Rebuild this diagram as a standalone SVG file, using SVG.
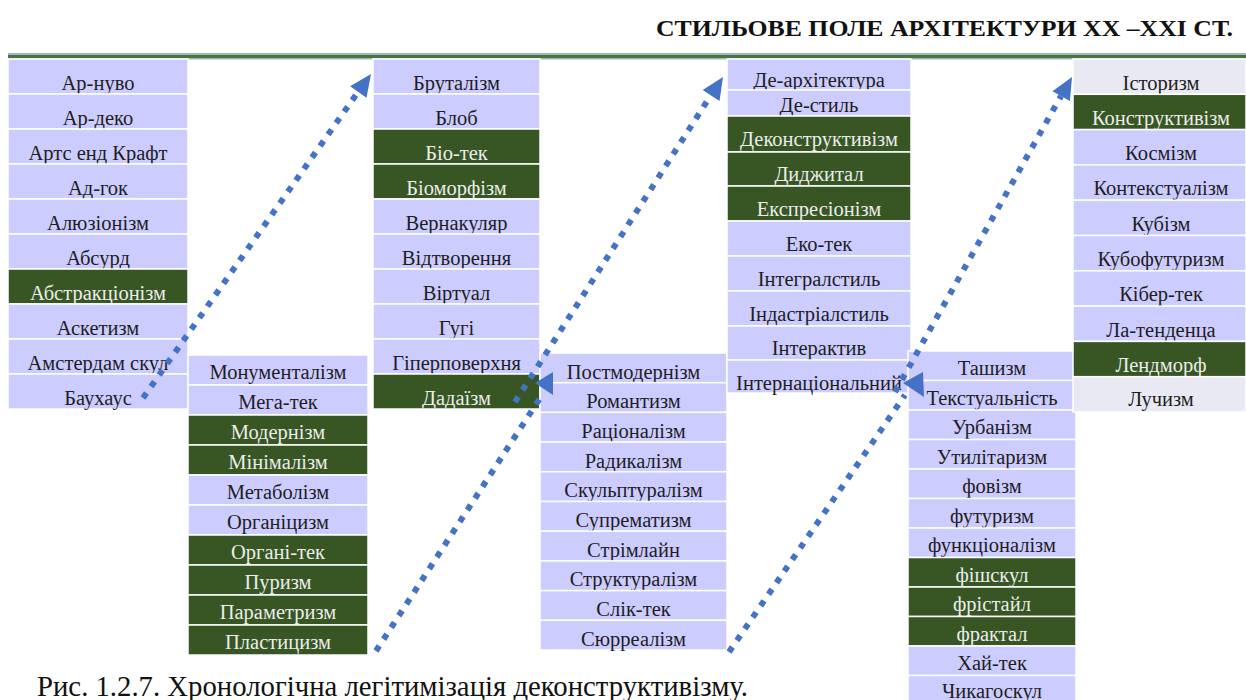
<svg xmlns="http://www.w3.org/2000/svg" width="1246" height="700" viewBox="0 0 1246 700" font-family="'Liberation Serif', 'Times New Roman', serif">
<style>
.c{fill:#CCCCFF;stroke:#ffffff;stroke-width:1.5}
.g{fill:#375623;stroke:#ffffff;stroke-width:1.5}
.w{fill:#E8E9F3;stroke:#ffffff;stroke-width:1.5}
.t{font-family:'Liberation Serif','Times New Roman',serif;font-size:20.5px;text-anchor:middle;fill:#1e1e1e}
.tg{font-family:'Liberation Serif','Times New Roman',serif;font-size:20.5px;text-anchor:middle;fill:#ececec}
.ttl{font-family:'Liberation Serif','Times New Roman',serif;font-size:23px;font-weight:bold;text-anchor:end;fill:#111}
.cap{font-family:'Liberation Serif','Times New Roman',serif;font-size:29px;fill:#111}
.arr{stroke:#4472C4;stroke-width:6;stroke-dasharray:6 8;fill:none}
.head{fill:#4472C4}
</style>
<rect x="0" y="0" width="1246" height="700" fill="#ffffff"/>
<text class="ttl" x="1233" y="36" textLength="577" lengthAdjust="spacingAndGlyphs">СТИЛЬОВЕ ПОЛЕ АРХІТЕКТУРИ XX –XXI СТ.</text>
<g id="topbar">
<rect x="8" y="53" width="1238" height="2" fill="#9DB3D6"/>
<rect x="8" y="55" width="1238" height="3.5" fill="#4A7536"/>
<rect x="8" y="58.5" width="1238" height="1" fill="#9DB3D6"/>
</g>
<g id="col1">
<g id="n-ar-nuvo"><rect class="c" x="8" y="59" width="180" height="35"/><text class="t" x="98" y="89.5">Ар-нуво</text></g>
<g id="n-ar-deko"><rect class="c" x="8" y="94" width="180" height="35"/><text class="t" x="98" y="124.5">Ар-деко</text></g>
<g id="n-arts"><rect class="c" x="8" y="129" width="180" height="35"/><text class="t" x="98" y="159.5">Артс енд Крафт</text></g>
<g id="n-ad-gok"><rect class="c" x="8" y="164" width="180" height="35"/><text class="t" x="98" y="194.5">Ад-гок</text></g>
<g id="n-aliuz"><rect class="c" x="8" y="199" width="180" height="35"/><text class="t" x="98" y="229.5">Алюзіонізм</text></g>
<g id="n-absurd"><rect class="c" x="8" y="234" width="180" height="35"/><text class="t" x="98" y="264.5">Абсурд</text></g>
<g id="n-abstr"><rect class="g" x="8" y="269" width="180" height="35"/><text class="tg" x="98" y="299.5">Абстракціонізм</text></g>
<g id="n-asket"><rect class="c" x="8" y="304" width="180" height="35"/><text class="t" x="98" y="334.5">Аскетизм</text></g>
<g id="n-amst"><rect class="c" x="8" y="339" width="180" height="35"/><text class="t" x="98" y="369.5">Амстердам скул</text></g>
<g id="n-bauh"><rect class="c" x="8" y="374" width="180" height="35"/><text class="t" x="98" y="404.5">Баухаус</text></g>
</g>
<g id="col2">
<g id="n-monum"><rect class="c" x="188" y="355" width="180" height="30"/><text class="t" x="278" y="379">Монументалізм</text></g>
<g id="n-mega"><rect class="c" x="188" y="385" width="180" height="30"/><text class="t" x="278" y="409">Мега-тек</text></g>
<g id="n-modern"><rect class="g" x="188" y="415" width="180" height="30"/><text class="tg" x="278" y="439">Модернізм</text></g>
<g id="n-minim"><rect class="g" x="188" y="445" width="180" height="30"/><text class="tg" x="278" y="469">Мінімалізм</text></g>
<g id="n-metab"><rect class="c" x="188" y="475" width="180" height="30"/><text class="t" x="278" y="499">Метаболізм</text></g>
<g id="n-organ"><rect class="c" x="188" y="505" width="180" height="30"/><text class="t" x="278" y="529">Органіцизм</text></g>
<g id="n-organtek"><rect class="g" x="188" y="535" width="180" height="30"/><text class="tg" x="278" y="559">Органі-тек</text></g>
<g id="n-puryzm"><rect class="g" x="188" y="565" width="180" height="30"/><text class="tg" x="278" y="589">Пуризм</text></g>
<g id="n-param"><rect class="g" x="188" y="595" width="180" height="30"/><text class="tg" x="278" y="619">Параметризм</text></g>
<g id="n-plast"><rect class="g" x="188" y="625" width="180" height="30"/><text class="tg" x="278" y="649">Пластицизм</text></g>
</g>
<g id="col3">
<g id="n-brut"><rect class="c" x="373" y="59" width="167" height="35"/><text class="t" x="456.5" y="89.5">Бруталізм</text></g>
<g id="n-blob"><rect class="c" x="373" y="94" width="167" height="35"/><text class="t" x="456.5" y="124.5">Блоб</text></g>
<g id="n-biotek"><rect class="g" x="373" y="129" width="167" height="35"/><text class="tg" x="456.5" y="159.5">Біо-тек</text></g>
<g id="n-biomorf"><rect class="g" x="373" y="164" width="167" height="35"/><text class="tg" x="456.5" y="194.5">Біоморфізм</text></g>
<g id="n-vern"><rect class="c" x="373" y="199" width="167" height="35"/><text class="t" x="456.5" y="229.5">Вернакуляр</text></g>
<g id="n-vidtv"><rect class="c" x="373" y="234" width="167" height="35"/><text class="t" x="456.5" y="264.5">Відтворення</text></g>
<g id="n-virt"><rect class="c" x="373" y="269" width="167" height="35"/><text class="t" x="456.5" y="299.5">Віртуал</text></g>
<g id="n-gugi"><rect class="c" x="373" y="304" width="167" height="35"/><text class="t" x="456.5" y="334.5">Гугі</text></g>
<g id="n-giper"><rect class="c" x="373" y="339" width="167" height="35"/><text class="t" x="456.5" y="369.5">Гіперповерхня</text></g>
<g id="n-dada"><rect class="g" x="373" y="374" width="167" height="35"/><text class="tg" x="456.5" y="404.5">Дадаїзм</text></g>
</g>
<g id="col4">
<g id="n-postmod"><rect class="c" x="540" y="353" width="187" height="29.7"/><text class="t" x="633.5" y="378.5">Постмодернізм</text></g>
<g id="n-romant"><rect class="c" x="540" y="382.7" width="187" height="29.7"/><text class="t" x="633.5" y="408.2">Романтизм</text></g>
<g id="n-rats"><rect class="c" x="540" y="412.4" width="187" height="29.7"/><text class="t" x="633.5" y="437.9">Раціоналізм</text></g>
<g id="n-radyk"><rect class="c" x="540" y="442.1" width="187" height="29.7"/><text class="t" x="633.5" y="467.6">Радикалізм</text></g>
<g id="n-skulpt"><rect class="c" x="540" y="471.8" width="187" height="29.7"/><text class="t" x="633.5" y="497.3">Скульптуралізм</text></g>
<g id="n-suprem"><rect class="c" x="540" y="501.5" width="187" height="29.7"/><text class="t" x="633.5" y="527">Супрематизм</text></g>
<g id="n-strim"><rect class="c" x="540" y="531.2" width="187" height="29.7"/><text class="t" x="633.5" y="556.7">Стрімлайн</text></g>
<g id="n-strukt"><rect class="c" x="540" y="560.9" width="187" height="29.7"/><text class="t" x="633.5" y="586.4">Структуралізм</text></g>
<g id="n-slik"><rect class="c" x="540" y="590.6" width="187" height="29.7"/><text class="t" x="633.5" y="616.1">Слік-тек</text></g>
<g id="n-surr"><rect class="c" x="540" y="620.3" width="187" height="29.7"/><text class="t" x="633.5" y="645.8">Сюрреалізм</text></g>
</g>
<g id="col5">
<g id="n-dearch"><rect class="c" x="727" y="59" width="184" height="31"/><text class="t" x="819" y="87">Де-архітектура</text></g>
<g id="n-destyl"><rect class="c" x="727" y="90" width="184" height="26"/><text class="t" x="819" y="112">Де-стиль</text></g>
<g id="n-dekon"><rect class="g" x="727" y="116" width="184" height="36"/><text class="tg" x="819" y="146">Деконструктивізм</text></g>
<g id="n-didzh"><rect class="g" x="727" y="152" width="184" height="34"/><text class="tg" x="819" y="181">Диджитал</text></g>
<g id="n-ekspr"><rect class="g" x="727" y="186" width="184" height="35"/><text class="tg" x="819" y="215.5">Експресіонізм</text></g>
<g id="n-ekotek"><rect class="c" x="727" y="221" width="184" height="35"/><text class="t" x="819" y="251">Еко-тек</text></g>
<g id="n-integr"><rect class="c" x="727" y="256" width="184" height="35"/><text class="t" x="819" y="286">Інтегралстиль</text></g>
<g id="n-indust"><rect class="c" x="727" y="291" width="184" height="35"/><text class="t" x="819" y="321">Індастріалстиль</text></g>
<g id="n-interakt"><rect class="c" x="727" y="326" width="184" height="34"/><text class="t" x="819" y="355">Інтерактив</text></g>
<g id="n-intern"><rect class="c" x="727" y="360" width="184" height="33"/><text class="t" x="819" y="390">Інтернаціональний</text></g>
</g>
<g id="col6">
<g id="n-tash"><rect class="c" x="908" y="351" width="168" height="29.5"/><text class="t" x="992" y="375">Ташизм</text></g>
<g id="n-tekst"><rect class="c" x="908" y="380.5" width="168" height="29.5"/><text class="t" x="992" y="404.5">Текстуальність</text></g>
<g id="n-urban"><rect class="c" x="908" y="410" width="168" height="29.5"/><text class="t" x="992" y="434">Урбанізм</text></g>
<g id="n-util"><rect class="c" x="908" y="439.5" width="168" height="29.5"/><text class="t" x="992" y="463.5">Утилітаризм</text></g>
<g id="n-fov"><rect class="c" x="908" y="469" width="168" height="29.5"/><text class="t" x="992" y="493">фовізм</text></g>
<g id="n-futur"><rect class="c" x="908" y="498.5" width="168" height="29.5"/><text class="t" x="992" y="522.5">футуризм</text></g>
<g id="n-funk"><rect class="c" x="908" y="528" width="168" height="29.5"/><text class="t" x="992" y="552">функціоналізм</text></g>
<g id="n-fish"><rect class="g" x="908" y="557.5" width="168" height="29.5"/><text class="tg" x="992" y="581.5">фішскул</text></g>
<g id="n-free"><rect class="g" x="908" y="587" width="168" height="29.5"/><text class="tg" x="992" y="611">фрістайл</text></g>
<g id="n-fract"><rect class="g" x="908" y="616.5" width="168" height="29.5"/><text class="tg" x="992" y="640.5">фрактал</text></g>
<g id="n-haitek"><rect class="c" x="908" y="646" width="168" height="29.5"/><text class="t" x="992" y="670">Хай-тек</text></g>
<g id="n-chik"><rect class="c" x="908" y="675.5" width="168" height="29.5"/><text class="t" x="992" y="697.5">Чикагоскул</text></g>
</g>
<g id="col7">
<g id="n-istor"><rect class="w" x="1073" y="59" width="173" height="35.3"/><text class="t" x="1161" y="89.5">Історизм</text></g>
<g id="n-konstr"><rect class="g" x="1073" y="94.3" width="173" height="35.3"/><text class="tg" x="1161" y="124.8">Конструктивізм</text></g>
<g id="n-kosm"><rect class="c" x="1073" y="129.6" width="173" height="35.3"/><text class="t" x="1161" y="160.1">Космізм</text></g>
<g id="n-kontekst"><rect class="c" x="1073" y="164.9" width="173" height="35.3"/><text class="t" x="1161" y="195.4">Контекстуалізм</text></g>
<g id="n-kub"><rect class="c" x="1073" y="200.2" width="173" height="35.3"/><text class="t" x="1161" y="230.7">Кубізм</text></g>
<g id="n-kubofut"><rect class="c" x="1073" y="235.5" width="173" height="35.3"/><text class="t" x="1161" y="266">Кубофутуризм</text></g>
<g id="n-kiber"><rect class="c" x="1073" y="270.8" width="173" height="35.3"/><text class="t" x="1161" y="301.3">Кібер-тек</text></g>
<g id="n-laten"><rect class="c" x="1073" y="306.1" width="173" height="35.3"/><text class="t" x="1161" y="336.6">Ла-тенденца</text></g>
<g id="n-lend"><rect class="g" x="1073" y="341.4" width="173" height="35.3"/><text class="tg" x="1161" y="371.9">Лендморф</text></g>
<g id="n-luch"><rect class="w" x="1073" y="376.7" width="173" height="35.3"/><text class="t" x="1161" y="405.5">Лучизм</text></g>
</g>
<g id="connectors">
<line class="arr" x1="143" y1="398" x2="358" y2="92"/>
<polygon class="head" points="371,74 366.5,97.8 350.1,86.2"/>
<line class="arr" x1="376" y1="651" x2="540" y2="398"/>
<polygon class="head" points="535,383 553,372 553,395"/>
<line class="arr" x1="515" y1="402" x2="711" y2="95"/>
<polygon class="head" points="723,77 719.5,100.9 702.7,90.1"/>
<line class="arr" x1="729" y1="652" x2="905" y2="395"/>
<polygon class="head" points="903,383 923,372 924,397"/>
<line class="arr" x1="895" y1="392" x2="1061" y2="96"/>
<polygon class="head" points="1072,77 1069.9,101.1 1052.5,91.3"/>
</g>
<text class="cap" x="37" y="696" textLength="711" lengthAdjust="spacingAndGlyphs">Рис. 1.2.7. Хронологічна легітимізація деконструктивізму.</text>
</svg>
